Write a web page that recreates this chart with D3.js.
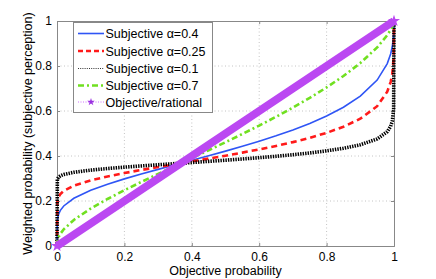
<!DOCTYPE html>
<html><head><meta charset="utf-8">
<script src="https://cdn.jsdelivr.net/npm/d3@7"></script>
<style>body{margin:0;background:#fff}svg{display:block}text{font-family:"Liberation Sans",Arial,sans-serif}</style>
</head><body><svg id="c" width="436" height="279"></svg>
<script>
const pValues = [0,0.001,0.005,0.01,0.02,0.05,0.1,0.15,0.2,0.25,0.3,0.35,0.4,0.45,0.5,0.55,0.6,0.65,0.7,0.75,0.8,0.85,0.9,0.95,0.98,0.99,0.995,0.999,1];
const alpha04 = [0,0.1146,0.1425,0.1585,0.1780,0.2121,0.2476,0.2748,0.2983,0.3200,0.3406,0.3607,0.3808,0.4010,0.4216,0.4431,0.4656,0.4897,0.5158,0.5447,0.5776,0.6166,0.6660,0.7373,0.8106,0.8532,0.8867,0.9388,1];
const alpha025 = [0,0.1976,0.2193,0.2311,0.2450,0.2683,0.2918,0.3092,0.3242,0.3379,0.3508,0.3634,0.3759,0.3886,0.4015,0.4151,0.4294,0.4448,0.4617,0.4808,0.5029,0.5300,0.5657,0.6213,0.6859,0.7286,0.7664,0.8371,1];
const alpha01 = [0,0.2972,0.3068,0.3119,0.3179,0.3276,0.3372,0.3443,0.3504,0.3559,0.3611,0.3661,0.3711,0.3762,0.3814,0.3868,0.3926,0.3988,0.4057,0.4136,0.4229,0.4344,0.4500,0.4757,0.5082,0.5319,0.5550,0.6058,1];
const alpha07 = [0,0.0209,0.0402,0.0543,0.0744,0.1159,0.1665,0.2090,0.2478,0.2846,0.3202,0.3554,0.3904,0.4256,0.4613,0.4978,0.5353,0.5743,0.6151,0.6583,0.7047,0.7556,0.8130,0.8824,0.9370,0.9608,0.9757,0.9921,1];
const objectiveP = [0,0.1,0.2,0.3,0.4,0.5,0.6,0.7,0.8,0.9,1];
const objectiveW = [0,0.1,0.2,0.3,0.4,0.5,0.6,0.7,0.8,0.9,1];
const tickValues = [0,0.2,0.4,0.6,0.8,1];
const tickLabels = ["0","0.2","0.4","0.6","0.8","1"];
const seriesNames = ["Subjective \u03b1=0.4","Subjective \u03b1=0.25","Subjective \u03b1=0.1","Subjective \u03b1=0.7","Objective/rational"];

const svg = d3.select("#c");
const L=57,R=394,T=21,B=246;
const x = d3.scaleLinear().domain([0,1]).range([L,R]);
const y = d3.scaleLinear().domain([0,1]).range([B,T]);

// grid
const grid = svg.append("g");
tickValues.slice(1,5).forEach(v=>{
  grid.append("line").attr("x1",x(v)).attr("x2",x(v)).attr("y1",T).attr("y2",B)
    .attr("stroke","#c4c4c4").attr("stroke-width",1).attr("stroke-dasharray","1,2.5");
  grid.append("line").attr("x1",L).attr("x2",R).attr("y1",y(v)).attr("y2",y(v))
    .attr("stroke","#c4c4c4").attr("stroke-width",1).attr("stroke-dasharray","1,2.5");
});

// axes
const fmt = (d,i)=>tickLabels[i];
svg.append("g").attr("transform",`translate(0,${B})`)
  .call(d3.axisBottom(x).tickValues(tickValues).tickFormat(fmt).tickSize(-3).tickPadding(6));
svg.append("g").attr("transform",`translate(${L},0)`)
  .call(d3.axisLeft(y).tickValues(tickValues).tickFormat(fmt).tickSize(-3).tickPadding(5));
svg.append("g").attr("transform",`translate(0,${T})`)
  .call(d3.axisTop(x).tickValues(tickValues).tickFormat("").tickSize(-3));
svg.append("g").attr("transform",`translate(${R},0)`)
  .call(d3.axisRight(y).tickValues(tickValues).tickFormat("").tickSize(-3));
svg.selectAll(".domain").attr("stroke","#888");
svg.selectAll(".tick line").attr("stroke","#888");
svg.selectAll(".tick text").attr("fill","#000").style("font-size","12px");

// labels
svg.append("text").attr("x",(L+R)/2).attr("y",275).attr("text-anchor","middle")
  .style("font-size","12.5px").text("Objective probability");
svg.append("text").attr("transform",`translate(32,${(T+B)/2}) rotate(-90)`).attr("text-anchor","middle")
  .style("font-size","12.5px").text("Weighted probability (subjective perception)");

const line = d3.line().x(d=>x(d[0])).y(d=>y(d[1]));
const styles = [
  {data:alpha04, color:"#2f55f5", w:1.6, dash:null},
  {data:alpha025, color:"#ff1a1a", w:2.6, dash:"6,4"},
  {data:alpha01, color:"#000", w:3.6, dash:"1.4,1.1"},
  {data:alpha07, color:"#70e020", w:2.6, dash:"6,3,2,3"}
];
const plot = svg.append("g");
styles.forEach(s=>{
  plot.append("path").datum(pValues.map((p,i)=>[p,s.data[i]])).attr("d",line)
    .attr("fill","none").attr("stroke",s.color).attr("stroke-width",s.w)
    .attr("stroke-dasharray",s.dash);
});
const objColor = "#bb48f2";
plot.append("path").datum(objectiveP.map((p,i)=>[p,objectiveW[i]])).attr("d",line)
  .attr("fill","none").attr("stroke",objColor).attr("stroke-width",8);
const star = d3.symbol().type(d3.symbolStar).size(45);
[[objectiveP[0],objectiveW[0]],[objectiveP[objectiveP.length-1],objectiveW[objectiveW.length-1]]].forEach(d=>{
  plot.append("path").attr("d",star).attr("transform",`translate(${x(d[0])},${y(d[1])})`).attr("fill",objColor);
});

// legend
const lg = svg.append("g");
lg.append("rect").attr("x",73.5).attr("y",22.5).attr("width",139).attr("height",90)
  .attr("fill","#fff").attr("stroke","#888").attr("stroke-width",1);
const legY = [33.5,51,68.5,85.5,102];
const legStyles = [
  {color:"#2f55f5", w:1.6, dash:null},
  {color:"#ff1a1a", w:2.4, dash:"5,3"},
  {color:"#333", w:1.2, dash:"1,1.2"},
  {color:"#70e020", w:2.4, dash:"6,3,2,3"},
  {color:"#d070ff", w:1, dash:"1,1.5"}
];
seriesNames.forEach((n,i)=>{
  const s = legStyles[i];
  lg.append("line").attr("x1",78).attr("x2",104).attr("y1",legY[i]).attr("y2",legY[i])
    .attr("stroke",s.color).attr("stroke-width",s.w).attr("stroke-dasharray",s.dash);
  lg.append("text").attr("x",105.5).attr("y",legY[i]+4.5).style("font-size","12.5px").text(n);
});
lg.append("path").attr("d",d3.symbol().type(d3.symbolStar).size(18)).attr("transform",`translate(91,${legY[4]})`).attr("fill","#9a30e0");
</script></body></html>
